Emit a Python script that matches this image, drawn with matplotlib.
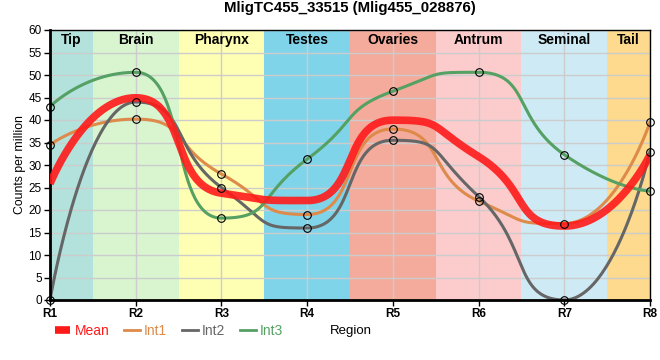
import numpy as np
import matplotlib.pyplot as plt
from matplotlib.lines import Line2D

# -----------------------------
# Data
# -----------------------------
regions = ["R1", "R2", "R3", "R4", "R5", "R6", "R7", "R8"]
tissues = ["Tip", "Brain", "Pharynx", "Testes", "Ovaries", "Antrum", "Seminal", "Tail"]
tissue_colors = ["#b3e2dd", "#d8f5d0", "#ffffb3", "#80d4ea",
                 "#f4ab9c", "#fccbcc", "#ceeaf4", "#fdda8d"]

int1 = [34.5, 40.2, 28.0, 19.0, 38.0, 22.0, 17.0, 39.5]
int2 = [0.0, 44.0, 25.0, 16.0, 35.5, 23.0, 0.0, 33.0]
int3 = [43.0, 50.6, 18.2, 31.3, 46.4, 50.6, 32.3, 24.2]
mean = list(np.mean([int1, int2, int3], axis=0))

plt.rcParams['font.family'] = ['Liberation Sans', 'DejaVu Sans']


# -----------------------------
# Spline: bezier segments, control points along the chord slope,
# flattened at extremes, endpoints without handles
# -----------------------------
def spline(x, y, k=0.6, n=60):
    x = np.asarray(x, float)
    y = np.asarray(y, float)
    npts = len(x)
    left = [(x[0], y[0])] * npts
    right = [(x[-1], y[-1])] * npts
    right[0] = (x[0], y[0])
    left[-1] = (x[-1], y[-1])
    for i in range(1, npts - 1):
        m = (y[i + 1] - y[i - 1]) / (x[i + 1] - x[i - 1])
        lx = x[i] - k * (x[i] - x[i - 1])
        rx = x[i] + k * (x[i + 1] - x[i])
        ly = y[i] - m * (x[i] - lx)
        ry = y[i] + m * (rx - x[i])
        # keep control points from overshooting neighbours
        if (ly > y[i - 1] and ly > y[i]) or (ly < y[i - 1] and ly < y[i]):
            ly = max(y[i - 1], y[i]) if ly > y[i] else min(y[i - 1], y[i])
            ry = 2 * y[i] - ly
        if (ry > y[i + 1] and ry > y[i]) or (ry < y[i + 1] and ry < y[i]):
            ry = max(y[i + 1], y[i]) if ry > y[i] else min(y[i + 1], y[i])
            ly = 2 * y[i] - ry
        left[i] = (lx, ly)
        right[i] = (rx, ry)
    xs, ys = [], []
    t = np.linspace(0, 1, n)
    b0, b1, b2, b3 = (1 - t)**3, 3 * (1 - t)**2 * t, 3 * (1 - t) * t**2, t**3
    for i in range(npts - 1):
        xs.append(b0 * x[i] + b1 * right[i][0] + b2 * left[i + 1][0] + b3 * x[i + 1])
        ys.append(b0 * y[i] + b1 * right[i][1] + b2 * left[i + 1][1] + b3 * y[i + 1])
    return np.concatenate(xs), np.concatenate(ys)


xpos = np.arange(len(regions))
xmax = len(regions) - 1

fig = plt.figure(figsize=(6.6, 3.6), dpi=100)
ax = fig.add_axes([50 / 660, 60 / 360, 600 / 660, 270 / 360])

# tissue bands
for i, (name, col) in enumerate(zip(tissues, tissue_colors)):
    x0, x1 = max(i - 0.5, 0), min(i + 0.5, xmax)
    ax.axvspan(x0, x1, color=col, zorder=0.2, lw=0)
    ax.text((x0 + x1) / 2, 59.3, name, ha='center', va='top',
            fontsize=10, fontweight='bold', zorder=5)

ax.set_axisbelow(True)
ax.grid(True, color='#cccccc', lw=1, zorder=0.5)

# lines
mx, my = spline(xpos, mean)
ax.plot(mx, my, color='#ff1a1a', lw=5.5, alpha=0.9, zorder=3, solid_capstyle='butt')

series = [(int1, '#dd8a4a', 'Int1'), (int2, '#666666', 'Int2'), (int3, '#55a063', 'Int3')]
for vals, col, lab in series:
    sx, sy = spline(xpos, vals)
    ax.plot(sx, sy, color=col, lw=2.2, zorder=2)
for vals, col, lab in series:
    ax.plot(xpos, vals, 'o', ms=5.5, mfc='none', mec='black', mew=0.8, zorder=6, clip_on=False)

ax.set_xlim(0, xmax)
ax.set_ylim(0, 60)
ax.set_xticks(xpos)
ax.set_xticklabels(regions, fontweight='bold', fontsize=8.5)
ax.set_yticks(np.arange(0, 61, 5))
ax.tick_params(axis='y', labelsize=8.5, length=4, width=1, pad=2)
ax.tick_params(axis='x', length=4, width=1, pad=2)
for side in ['left', 'bottom']:
    ax.spines[side].set_linewidth(2)
for side in ['top', 'right']:
    ax.spines[side].set_linewidth(1)

ax.set_ylabel("Counts per million", fontsize=8.8)
ax.yaxis.set_label_coords(-24 / 600, 0.5)
ax.set_title("MligTC455_33515 (Mlig455_028876)", fontsize=10.8, fontweight='bold', pad=13)
fig.text(351 / 660, 29 / 360, "Region", ha='center', va='center', fontsize=9.5)

handles = [Line2D([], [], color='#ff1a1a', lw=5.5, solid_capstyle='butt')]
handles += [Line2D([], [], color=c, lw=2) for _, c, _ in series]
fig.legend(handles, ["Mean", "Int1", "Int2", "Int3"], loc='center left',
           bbox_to_anchor=(55 / 660, 29 / 360), ncol=4, frameon=False,
           labelcolor='linecolor', fontsize=10, handlelength=1.1,
           handletextpad=0.3, columnspacing=1.1, borderaxespad=0, borderpad=0)

fig.savefig("out.png", dpi=100)
